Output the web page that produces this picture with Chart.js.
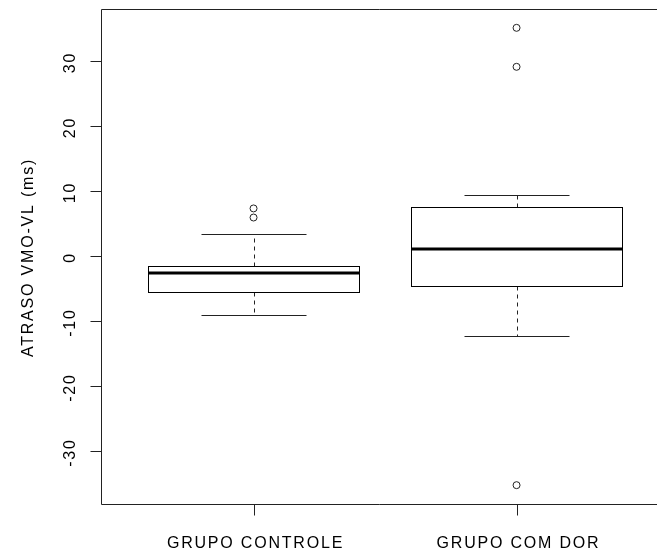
<!DOCTYPE html>
<html>
<head>
<meta charset="utf-8">
<script src="https://cdn.jsdelivr.net/npm/chart.js@4"></script>
<style>
  html, body { margin: 0; padding: 0; background: #fff; }
</style>
</head>
<body>
<canvas id="box" width="657" height="556"></canvas>
<script>
const groups = ["GRUPO CONTROLE", "GRUPO COM DOR"];
const whiskerLow = [-9.1, -12.4];
const q1 = [-5.5, -4.6];
const median = [-2.7, 1.1];
const q3 = [-1.5, 7.5];
const whiskerHigh = [3.4, 9.4];
const outliers = [[5.9, 7.3], [-35.3, 29.1, 35.1]];
const yTicks = [-30, -20, -10, 0, 10, 20, 30];
const yTitle = "ATRASO VMO-VL (ms)";

const ink = "#222";
const font = "16px 'Liberation Sans', Arial, sans-serif";

const outlierPoints = [];
outliers.forEach((list, i) => list.forEach((v) => outlierPoints.push({ x: i + 1, y: v })));

// boxes, whiskers, axes and labels drawn with the chart's scales
const boxPlot = {
  id: "boxPlot",
  beforeDatasetsDraw(chart) {
    const { ctx, chartArea: a, scales: { x, y } } = chart;
    const px = (v) => Math.round(x.getPixelForValue(v)) + 0.5;
    const py = (v) => Math.round(y.getPixelForValue(v)) + 0.5;
    ctx.save();
    ctx.strokeStyle = ink;
    ctx.lineWidth = 1;

    groups.forEach((g, i) => {
      const c = i + 1;
      const xc = px(c);
      // dashed whiskers
      ctx.setLineDash([4, 4]);
      ctx.beginPath();
      ctx.moveTo(xc, py(q3[i]));
      ctx.lineTo(xc, py(whiskerHigh[i]));
      ctx.moveTo(xc, py(q1[i]));
      ctx.lineTo(xc, py(whiskerLow[i]));
      ctx.stroke();
      ctx.setLineDash([]);
      // staples
      ctx.beginPath();
      ctx.moveTo(px(c - 0.2), py(whiskerHigh[i]));
      ctx.lineTo(px(c + 0.2), py(whiskerHigh[i]));
      ctx.moveTo(px(c - 0.2), py(whiskerLow[i]));
      ctx.lineTo(px(c + 0.2), py(whiskerLow[i]));
      ctx.stroke();
      // box
      const x0 = px(c - 0.4), x1 = px(c + 0.4);
      ctx.fillStyle = "#fff";
      ctx.fillRect(x0, py(q3[i]), x1 - x0, py(q1[i]) - py(q3[i]));
      ctx.strokeStyle = "#000";
      ctx.strokeRect(x0, py(q3[i]), x1 - x0, py(q1[i]) - py(q3[i]));
      // median
      ctx.lineWidth = 3;
      ctx.beginPath();
      ctx.moveTo(x0, Math.round(y.getPixelForValue(median[i])));
      ctx.lineTo(x1, Math.round(y.getPixelForValue(median[i])));
      ctx.stroke();
      ctx.lineWidth = 1;
      ctx.strokeStyle = ink;
    });

    // frame (right side falls outside the picture)
    const L = Math.round(a.left) + 0.5, T = Math.round(a.top) + 0.5, B = Math.round(a.bottom) + 0.5;
    ctx.beginPath();
    ctx.moveTo(a.right, T);
    ctx.lineTo(L, T);
    ctx.lineTo(L, B);
    ctx.lineTo(a.right, B);
    ctx.stroke();

    // y ticks and labels
    ctx.fillStyle = "#000";
    ctx.font = font;
    ctx.letterSpacing = "1.8px";
    ctx.textAlign = "center";
    ctx.textBaseline = "alphabetic";
    yTicks.forEach((t) => {
      const yy = py(t);
      ctx.beginPath();
      ctx.moveTo(L - 11, yy);
      ctx.lineTo(L, yy);
      ctx.stroke();
      ctx.save();
      ctx.translate(75, yy + 1);
      ctx.rotate(-Math.PI / 2);
      ctx.fillText(String(t), 0, 0);
      ctx.restore();
    });

    // x ticks and labels
    groups.forEach((g, i) => {
      const xx = px(i + 1);
      ctx.beginPath();
      ctx.moveTo(xx, B);
      ctx.lineTo(xx, B + 11);
      ctx.stroke();
      ctx.fillText(g, xx + 1, 548);
    });

    // y title
    ctx.save();
    ctx.translate(33, (a.top + a.bottom) / 2 + 1);
    ctx.rotate(-Math.PI / 2);
    ctx.fillText(yTitle, 0, 0);
    ctx.restore();

    ctx.restore();
  },
};

new Chart(document.getElementById("box"), {
  type: "scatter",
  data: {
    datasets: [
      {
        label: "outliers",
        data: outlierPoints,
        pointStyle: "circle",
        pointRadius: 3.5,
        pointBorderWidth: 1,
        borderColor: ink,
        backgroundColor: "#fff",
      },
    ],
  },
  options: {
    responsive: false,
    animation: false,
    layout: { autoPadding: false, padding: { left: 101, top: 9, right: 0, bottom: 52 } },
    plugins: { legend: { display: false }, tooltip: { enabled: false } },
    scales: {
      x: { type: "linear", display: false, min: 0.42, max: 2.534 },
      y: { type: "linear", display: false, min: -38.2, max: 38.0 },
    },
  },
  plugins: [boxPlot],
});
</script>
</body>
</html>
